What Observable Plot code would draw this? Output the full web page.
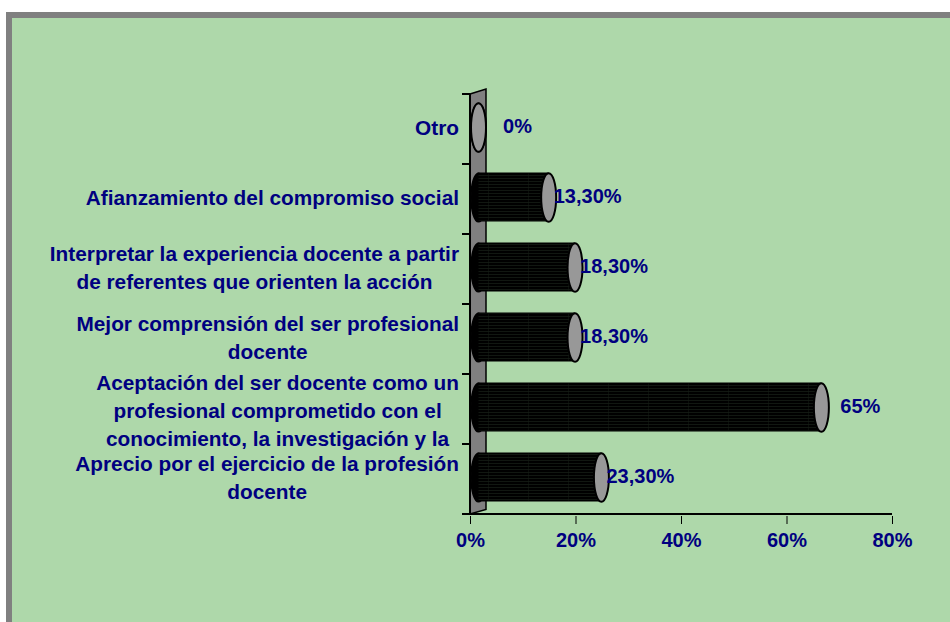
<!DOCTYPE html>
<html>
<head>
<meta charset="utf-8">
<script src="https://cdn.jsdelivr.net/npm/d3@7"></script>
<script src="https://cdn.jsdelivr.net/npm/@observablehq/plot@0.6"></script>
<style>
  html, body { margin: 0; padding: 0; background: #fff; }
  #outer { position: relative; width: 950px; height: 622px; overflow: hidden; background: #fff; }
  #border { position: absolute; left: 6px; top: 12px; right: 0; bottom: 0; background: #808080; }
  #panel { position: absolute; left: 12px; top: 18px; right: 0; bottom: 0; background: #aed8aa; }
  #chart { position: absolute; left: 0; top: 0; }
  #chart svg text { fill: #000080; font-weight: bold; }
  #chart svg g[aria-label^="x-axis"] text { font-size: 20px; }
</style>
</head>
<body>
<div id="outer">
  <div id="border"></div>
  <div id="panel"></div>
  <div id="chart"></div>
</div>
<script>
// ---- data ----
const categories = [
  "Otro",
  "Afianzamiento del compromiso social",
  "Interpretar la experiencia docente a partir\nde referentes que orienten la acción",
  "Mejor comprensión del ser profesional\ndocente",
  "Aceptación del ser docente como un\nprofesional comprometido con el\nconocimiento, la investigación y la",
  "Aprecio por el ejercicio de la profesión\ndocente"
];
const values = [0, 13.3, 18.3, 18.3, 65, 23.3];
const valueLabels = ["0%", "13,30%", "18,30%", "18,30%", "65%", "23,30%"];
const xTicks = [0, 20, 40, 60, 80];

const data = categories.map((c, i) => ({category: c, value: values[i], label: valueLabels[i]}));

// ---- style constants ----
const NAVY = "#000080";
const DEPTH_X = 16, DEPTH_Y = 4.5;   // 3D wall depth (pixels)
const OFF_X = 8, OFF_Y = -2;          // cylinders sit mid-depth
const RX = 7.5, RY = 24.3;            // cylinder end ellipse radii

const ellipse = {
  draw(ctx) {
    const kx = RX * 0.5523, ky = RY * 0.5523;
    ctx.moveTo(RX, 0);
    ctx.bezierCurveTo(RX, ky, kx, RY, 0, RY);
    ctx.bezierCurveTo(-kx, RY, -RX, ky, -RX, 0);
    ctx.bezierCurveTo(-RX, -ky, -kx, -RY, 0, -RY);
    ctx.bezierCurveTo(kx, -RY, RX, -ky, RX, 0);
    ctx.closePath();
  }
};

function bw(scale) {
  return typeof scale.bandwidth === "function" ? scale.bandwidth() : scale.bandwidth;
}

// wall, axis lines and category boundary ticks, positioned with the plot's scales
function decor(index, scales) {
  const x = scales.x, y = scales.y;
  const b = bw(y);
  const x0 = x(0);
  const top = y(categories[0]);
  const bottom = y(categories[categories.length - 1]) + b;
  const g = d3.create("svg:g");
  const defs = g.append("defs");
  const pat = defs.append("pattern").attr("id", "cylHatch").attr("width", 40).attr("height", 3)
    .attr("patternUnits", "userSpaceOnUse");
  pat.append("rect").attr("width", 40).attr("height", 3).attr("fill", "#000");
  pat.append("line").attr("x1", 0).attr("x2", 40).attr("y1", 0.5).attr("y2", 0.5)
    .attr("stroke", "#1c261c").attr("stroke-width", 0.6);
  pat.append("line").attr("x1", 0.5).attr("x2", 0.5).attr("y1", 0).attr("y2", 3)
    .attr("stroke", "#151c15").attr("stroke-width", 0.5);
  const cap = defs.append("pattern").attr("id", "capCheck").attr("width", 2).attr("height", 2)
    .attr("patternUnits", "userSpaceOnUse");
  cap.append("rect").attr("width", 2).attr("height", 2).attr("fill", "#a6a6a6");
  cap.append("rect").attr("width", 1).attr("height", 1).attr("fill", "#8a8a8a");
  cap.append("rect").attr("x", 1).attr("y", 1).attr("width", 1).attr("height", 1).attr("fill", "#8a8a8a");
  g.append("path")
    .attr("d", `M${x0},${top}L${x0 + DEPTH_X},${top - DEPTH_Y - 0.5}L${x0 + DEPTH_X},${bottom - DEPTH_Y}L${x0},${bottom}Z`)
    .attr("fill", "#808080").attr("stroke", "#000").attr("stroke-width", 1.5);
  g.append("line").attr("x1", x0).attr("x2", x0).attr("y1", top).attr("y2", bottom)
    .attr("stroke", "#000").attr("stroke-width", 2);
  g.append("line").attr("x1", x0).attr("x2", x(xTicks[xTicks.length - 1])).attr("y1", bottom).attr("y2", bottom)
    .attr("stroke", "#000").attr("stroke-width", 2);
  const bounds = categories.map(c => y(c)).concat([bottom]);
  for (const yy of bounds) {
    g.append("line").attr("x1", x0 - 8).attr("x2", x0).attr("y1", yy).attr("y2", yy)
      .attr("stroke", "#000").attr("stroke-width", 2);
  }
  return g.node();
}

const chart = Plot.plot({
  width: 950,
  height: 622,
  marginLeft: 470,
  marginRight: 58,
  marginTop: 92,
  marginBottom: 106,
  style: {
    background: "transparent",
    fontFamily: "'Liberation Sans', Arial, sans-serif",
    fontSize: "20px",
    color: "#000",
    overflow: "visible"
  },
  x: {
    domain: [0, 80],
    ticks: xTicks,
    tickFormat: d => d + "%",
    tickSize: 8,
    tickPadding: 8,
    label: null
  },
  y: {
    domain: categories,
    padding: 0,
    axis: null
  },
  marks: [
    decor,
    Plot.dot(data, {x: () => 0, y: "category", dx: OFF_X, dy: OFF_Y, symbol: ellipse, fill: "#000", stroke: "#000", strokeWidth: 1.5}),
    Plot.barX(data, {x1: () => 0, x2: "value", y: "category", dx: OFF_X, dy: OFF_Y, insetTop: 11, insetBottom: 11, fill: "url(#cylHatch)", stroke: "#000", strokeWidth: 1}),
    Plot.dot(data, {x: "value", y: "category", dx: OFF_X, dy: OFF_Y, symbol: ellipse, fill: "url(#capCheck)", stroke: "#000", strokeWidth: 2}),
    Plot.text(data, {x: "value", y: "category", text: "label", dx: 47, dy: -3, textAnchor: "middle", lineAnchor: "middle", fontSize: 20, fontWeight: "bold", fill: NAVY}),
    Plot.text(data, {x: () => 0, y: "category", text: "category", dx: -11.5, dy: -3, textAnchor: "end", lineAnchor: "middle", lineHeight: 1.346, fontSize: 20.8, fontWeight: "bold", fill: NAVY})
  ]
});

document.getElementById("chart").appendChild(chart);

// center the lines of each multi-line category label within its block (right edge fixed)
chart.querySelectorAll("text").forEach(function(t) {
  const tspans = Array.from(t.querySelectorAll("tspan"));
  if (tspans.length < 2) return;
  const widths = tspans.map(s => s.getComputedTextLength());
  const maxW = Math.max(...widths);
  tspans.forEach((s, i) => {
    const base = parseFloat(s.getAttribute("x")) || 0;
    s.setAttribute("x", base - (maxW - widths[i]) / 2);
  });
  if (tspans.length > 2) tspans[0].setAttribute("dy", 3);
});
</script>
</body>
</html>
